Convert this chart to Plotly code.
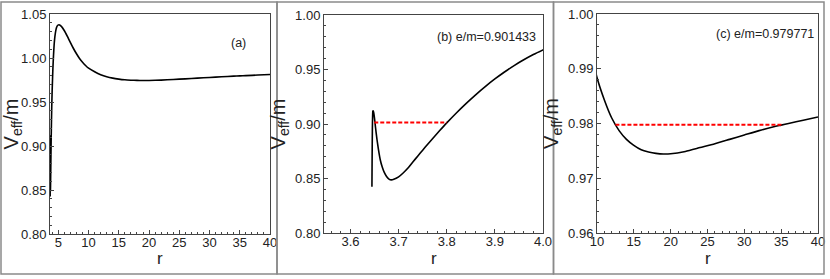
import plotly.graph_objects as go

# ---------------- data ----------------
# effective potential V_eff/m versus r (same curve is shown in all panels)
r_vals = [3.6446, 3.6450, 3.6455, 3.6460, 3.6465, 3.6470, 3.6475, 3.648, 3.650, 3.652,
          3.655, 3.658, 3.662, 3.666, 3.670, 3.675, 3.680, 3.685, 3.690, 3.700,
          3.710, 3.720, 3.730, 3.740, 3.750, 3.760, 3.770, 3.780, 3.790, 3.800,
          3.820, 3.840, 3.860, 3.880, 3.900, 3.920, 3.940, 3.960, 3.980, 4.000,
          4.1, 4.2, 4.3, 4.4, 4.5, 4.6, 4.7, 4.8, 4.9, 5.0,
          5.1, 5.5, 6.0, 6.5, 7.0, 7.5, 8.0, 8.5, 9.0, 9.5,
          10, 11, 12, 13, 14, 15, 16, 17, 18, 19,
          20, 22, 24, 26, 28, 30, 32, 34, 35, 36, 38, 40]
v_vals = [0.8425, 0.8700, 0.8950, 0.9070, 0.9118, 0.9122, 0.9115, 0.9110, 0.9050, 0.8970,
          0.8860, 0.8770, 0.8670, 0.8605, 0.8558, 0.8518, 0.8494, 0.8487, 0.8492, 0.8515,
          0.8553, 0.8598, 0.8653, 0.8707, 0.8760, 0.8812, 0.8863, 0.8913, 0.8962, 0.9010,
          0.9101, 0.9187, 0.9268, 0.9343, 0.9413, 0.9477, 0.9536, 0.9589, 0.9637, 0.9680,
          0.9880, 1.0030, 1.0145, 1.0225, 1.0280, 1.0320, 1.0347, 1.0363, 1.0372, 1.0376,
          1.0377, 1.0360, 1.0310, 1.0245, 1.0175, 1.0108, 1.0048, 0.9995, 0.9952, 0.9915,
          0.9884, 0.9843, 0.9810, 0.9787, 0.9771, 0.9760, 0.9752, 0.9748, 0.97455, 0.97443,
          0.97447, 0.9749, 0.9756, 0.9763, 0.9771, 0.9779, 0.9787, 0.9794, 0.9797, 0.9800,
          0.9806, 0.9812]

# energy levels and turning points
e_b = 0.901433
r_turn_b = [3.6494, 3.800]
e_c = 0.979771
r_turn_c = [12.5, 35.1]

panel_labels = ["(a)", "(b) e/m=0.901433", "(c) e/m=0.979771"]
x_title = "r"
y_title = "V<sub>eff</sub>/m"

xticks_a = [5, 10, 15, 20, 25, 30, 35, 40]
yticks_a = [0.80, 0.85, 0.90, 0.95, 1.00, 1.05]
xticks_b = [3.6, 3.7, 3.8, 3.9, 4.0]
yticks_b = [0.80, 0.85, 0.90, 0.95, 1.00]
xticks_c = [10, 15, 20, 25, 30, 35, 40]
yticks_c = [0.96, 0.97, 0.98, 0.99, 1.00]

# ---------------- figure ----------------
W, H = 830, 279
fig = go.Figure()

def px_x(p):
    return p / W

def px_y(p):
    return 1 - p / H

panels = [
    dict(xd=(50, 270), yd=(14, 234), xr=[3.62, 40], yr=[0.80, 1.05],
         xt=xticks_a, yt=yticks_a, xfmt=None, yfmt=".2f", xminor=1, yminor=0.01),
    dict(xd=(324, 543), yd=(15, 233), xr=[3.545, 4.0], yr=[0.80, 1.00],
         xt=xticks_b, yt=yticks_b, xfmt=".1f", yfmt=".2f", xminor=0.02, yminor=0.01),
    dict(xd=(597, 818), yd=(14, 233), xr=[10, 40], yr=[0.96, 1.00],
         xt=xticks_c, yt=yticks_c, xfmt=None, yfmt=".2f", xminor=1, yminor=0.002),
]

font_family = "Liberation Sans, Arial, sans-serif"

for i, p in enumerate(panels):
    n = "" if i == 0 else str(i + 1)
    xa, ya = "x" + n, "y" + n
    fig.add_trace(go.Scatter(x=r_vals, y=v_vals, mode="lines", xaxis=xa, yaxis=ya,
                             line=dict(color="black", width=1.6, shape="spline", smoothing=0.6),
                             showlegend=False, hoverinfo="skip"))
    common = dict(showgrid=False, zeroline=False, showline=True, mirror=True, automargin=False,
                  linecolor="#444444", linewidth=1, ticks="inside", ticklen=4,
                  tickcolor="#444444", tickfont=dict(size=13, color="#222222", family=font_family))
    xaxis = dict(domain=[px_x(p["xd"][0]), px_x(p["xd"][1])], range=p["xr"],
                 anchor=ya, tickmode="array", tickvals=p["xt"], ticklabelstandoff=-4,
                 minor=dict(ticks="inside", ticklen=2, dtick=p["xminor"], tickcolor="#444444"),
                 **common)
    if p["xfmt"]:
        xaxis["tickformat"] = p["xfmt"]
    yaxis = dict(domain=[px_y(p["yd"][1]), px_y(p["yd"][0])], range=p["yr"],
                 anchor=xa, tickmode="array", tickvals=p["yt"], tickformat=p["yfmt"],
                 minor=dict(ticks="inside", ticklen=2, dtick=p["yminor"], tickcolor="#444444"),
                 title=dict(text=y_title, font=dict(size=20, color="#222222", family=font_family), standoff=4),
                 **common)
    fig.layout["xaxis" + n] = xaxis
    fig.layout["yaxis" + n] = yaxis
    # x-axis title as an annotation, centred under the plot
    fig.add_annotation(x=px_x((p["xd"][0] + p["xd"][1]) / 2), y=px_y(246.5), xref="paper", yref="paper",
                       text=x_title, showarrow=False, xanchor="center", yanchor="top",
                       font=dict(size=17, color="#222222", family=font_family))

# red dashed energy levels
fig.add_trace(go.Scatter(x=r_turn_b, y=[e_b, e_b], mode="lines", xaxis="x2", yaxis="y2",
                         line=dict(color="red", width=2, dash="4px,2px"), showlegend=False, hoverinfo="skip"))
fig.add_trace(go.Scatter(x=r_turn_c, y=[e_c, e_c], mode="lines", xaxis="x3", yaxis="y3",
                         line=dict(color="red", width=2, dash="4px,2px"), showlegend=False, hoverinfo="skip"))

# panel labels
label_pos = [(248, 43), (538, 37), (816, 34)]
for (lx, ly), txt in zip(label_pos, panel_labels):
    fig.add_annotation(x=px_x(lx), y=px_y(ly), xref="paper", yref="paper", text=txt,
                       showarrow=False, xanchor="right", yanchor="middle",
                       font=dict(size=12.5, color="#222222", family=font_family))

# outer gray frames of the three panels
for x0, x1 in [(1, 277), (277, 553.5), (553.5, 824)]:
    fig.add_shape(type="rect", xref="paper", yref="paper",
                  x0=px_x(x0), x1=px_x(x1), y0=px_y(274), y1=px_y(2),
                  line=dict(color="#8a8a8a", width=1.5))

fig.update_layout(width=W, height=H, margin=dict(l=0, r=0, t=0, b=0),
                  paper_bgcolor="white", plot_bgcolor="white")

fig.write_html("out.html", config={"displayModeBar": False},
               post_script="document.body.style.margin='0px';document.body.style.overflow='hidden';")
